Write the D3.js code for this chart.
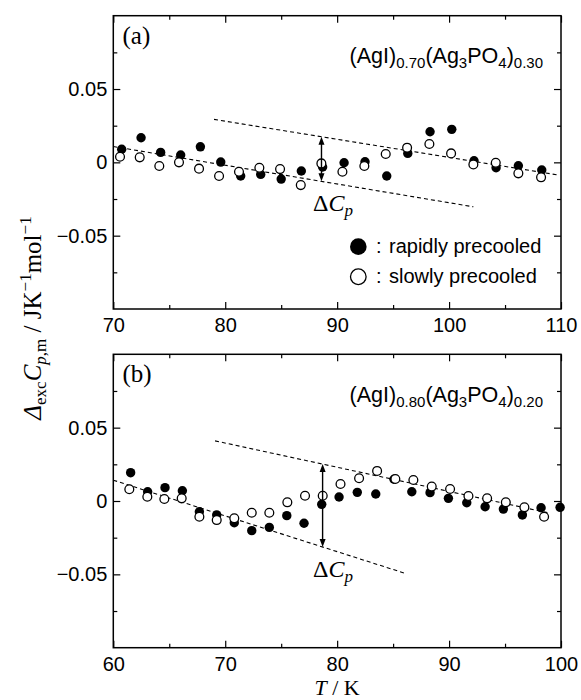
<!DOCTYPE html>
<html><head><meta charset="utf-8">
<script src="https://cdn.jsdelivr.net/npm/d3@7"></script>
<style>body{margin:0;background:#fff}</style>
</head><body>
<svg id="c" width="581" height="700"></svg>
<script>
// ---------- data ----------
const xTicksA = [70, 80, 90, 100, 110];
const xTicksB = [60, 70, 80, 90, 100];
const yTicks = [-0.05, 0, 0.05];
const yMinorTicks = [-0.075, -0.025, 0.025, 0.075];

// panel (a): (AgI)0.70(Ag3PO4)0.30
const aRapidT = [70.75, 72.48, 74.23, 76.02, 77.78, 79.6, 81.38, 83.17, 85.0, 86.8, 88.7, 90.62, 92.49, 94.43, 96.31, 98.3, 100.24, 102.23, 104.2, 106.19, 108.28];
const aRapidV = [0.0089, 0.0168, 0.0068, 0.005, 0.0106, 0.0002, -0.0093, -0.0082, -0.0114, -0.0059, -0.0032, -0.0003, 0.0004, -0.0093, 0.0061, 0.0209, 0.0225, 0.0011, -0.0037, -0.0023, -0.0052];
const aSlowT = [70.6, 72.36, 74.11, 75.87, 77.66, 79.45, 81.23, 83.05, 84.9, 86.75, 88.59, 90.47, 92.43, 94.34, 96.25, 98.24, 100.18, 102.17, 104.17, 106.19, 108.22];
const aSlowV = [0.0038, 0.0034, -0.0025, 0.0, -0.0043, -0.0093, -0.0064, -0.0037, -0.0046, -0.0155, -0.0007, -0.0064, -0.0025, 0.0057, 0.01, 0.0125, 0.0061, -0.0014, -0.0003, -0.0075, -0.0102];
const aLowerLineT = [70, 102.17], aLowerLineV = [0.0108, -0.0303];
const aUpperLineT = [79.0, 109.8], aUpperLineV = [0.0293, -0.0087];
const aArrowT = 88.6;

// panel (b): (AgI)0.80(Ag3PO4)0.20
const bRapidT = [61.55, 63.07, 64.62, 66.17, 67.69, 69.24, 70.81, 72.37, 73.94, 75.5, 77.04, 78.62, 80.17, 81.8, 83.45, 85.08, 86.67, 88.3, 89.94, 91.58, 93.22, 94.85, 96.55, 98.22, 99.92];
const bRapidV = [0.0193, 0.0063, 0.0091, 0.007, -0.0073, -0.0095, -0.0148, -0.0202, -0.018, -0.01, -0.0152, -0.0023, 0.0027, 0.0059, 0.0048, 0.0148, 0.0063, 0.0057, 0.0018, -0.0012, -0.0039, -0.0055, -0.0095, -0.0046, -0.0043];
const bSlowT = [61.43, 63.04, 64.56, 66.11, 67.69, 69.24, 70.81, 72.37, 73.94, 75.55, 77.13, 78.71, 80.3, 81.96, 83.57, 85.2, 86.81, 88.45, 90.09, 91.73, 93.4, 95.07, 96.73, 98.49];
const bSlowV = [0.008, 0.0029, 0.0014, 0.0018, -0.0107, -0.013, -0.0118, -0.008, -0.008, -0.0009, 0.0036, 0.0036, 0.0116, 0.0155, 0.0205, 0.015, 0.0143, 0.0098, 0.0082, 0.0034, 0.0018, -0.0009, -0.0043, -0.0107];
const bLowerLineT = [60, 86.07], bLowerLineV = [0.0142, -0.0493];
const bUpperLineT = [69.09, 99.0], bUpperLineV = [0.041, -0.0083];
const bArrowT = 78.7;

const legendLabels = ["rapidly precooled", "slowly precooled"];

// ---------- drawing ----------
const SANS = "'Liberation Sans', Arial, Helvetica, sans-serif";
const SERIF = "'Liberation Serif', 'Times New Roman', serif";
const svg = d3.select("#c");
const L = 113.3, R = 561;

const panels = [
  {top: 15.7, bottom: 309, xdom: [70, 110], xt: xTicksA, rT: aRapidT, rV: aRapidV, sT: aSlowT, sV: aSlowV,
   lo: [aLowerLineT, aLowerLineV], up: [aUpperLineT, aUpperLineV], arrowT: aArrowT,
   tag: "(a)", f1: "0.70", f2: "0.30", legend: true},
  {top: 354.3, bottom: 647.7, xdom: [60, 100], xt: xTicksB, rT: bRapidT, rV: bRapidV, sT: bSlowT, sV: bSlowV,
   lo: [bLowerLineT, bLowerLineV], up: [bUpperLineT, bUpperLineV], arrowT: bArrowT,
   tag: "(b)", f1: "0.80", f2: "0.20", legend: false}
];

panels.forEach(p => {
  const x = d3.scaleLinear().domain(p.xdom).range([L, R]);
  const y = d3.scaleLinear().domain([-0.1, 0.1]).range([p.bottom, p.top]);
  const g = svg.append("g");
  const xMinor = d3.range(p.xdom[0] + 5, p.xdom[1], 10);

  const fmtY = d => d === 0 ? "0" : d3.format(".2f")(d);
  const styleAxis = sel => {
    sel.select(".domain").remove();
    sel.selectAll("line").attr("stroke", "#000").attr("stroke-width", 1.2);
    sel.selectAll("text").attr("font-family", SANS).attr("font-size", 20).attr("fill", "#000");
  };
  g.append("g").attr("transform", `translate(0,${p.bottom})`)
    .call(d3.axisBottom(x).tickValues(p.xt).tickSize(-7).tickPadding(9).tickFormat(d3.format("d"))).call(styleAxis);
  g.append("g").attr("transform", `translate(0,${p.bottom})`)
    .call(d3.axisBottom(x).tickValues(xMinor).tickSize(-4).tickFormat("")).call(styleAxis);
  g.append("g").attr("transform", `translate(0,${p.top})`)
    .call(d3.axisTop(x).tickValues(p.xt).tickSize(-7).tickFormat("")).call(styleAxis);
  g.append("g").attr("transform", `translate(0,${p.top})`)
    .call(d3.axisTop(x).tickValues(xMinor).tickSize(-4).tickFormat("")).call(styleAxis);
  g.append("g").attr("transform", `translate(${L},0)`)
    .call(d3.axisLeft(y).tickValues(yTicks).tickSize(-7).tickPadding(6).tickFormat(fmtY)).call(styleAxis);
  g.append("g").attr("transform", `translate(${L},0)`)
    .call(d3.axisLeft(y).tickValues(yMinorTicks).tickSize(-4).tickFormat("")).call(styleAxis);
  g.append("g").attr("transform", `translate(${R},0)`)
    .call(d3.axisRight(y).tickValues(yTicks).tickSize(-7).tickFormat("")).call(styleAxis);
  g.append("g").attr("transform", `translate(${R},0)`)
    .call(d3.axisRight(y).tickValues(yMinorTicks).tickSize(-4).tickFormat("")).call(styleAxis);

  g.append("rect").attr("x", L).attr("y", p.top).attr("width", R - L).attr("height", p.bottom - p.top)
    .attr("fill", "none").attr("stroke", "#000").attr("stroke-width", 1.5);

  const line = d3.line().x(d => x(d[0])).y(d => y(d[1]));
  [p.lo, p.up].forEach(ln => {
    g.append("path").attr("d", line(d3.zip(ln[0], ln[1])))
      .attr("fill", "none").attr("stroke", "#000").attr("stroke-width", 1.1).attr("stroke-dasharray", "4,3");
  });

  const slow = d3.zip(p.sT, p.sV), rapid = d3.zip(p.rT, p.rV);
  g.append("g").selectAll("circle").data(rapid).join("circle")
    .attr("cx", d => x(d[0])).attr("cy", d => y(d[1])).attr("r", 4.7).attr("fill", "#000");
  g.append("g").selectAll("circle").data(slow).join("circle")
    .attr("cx", d => x(d[0])).attr("cy", d => y(d[1])).attr("r", 4.4)
    .attr("fill", "#fff").attr("stroke", "#000").attr("stroke-width", 1.3);

  const interp = (ln, t) => ln[1][0] + (t - ln[0][0]) * (ln[1][1] - ln[1][0]) / (ln[0][1] - ln[0][0]);
  const ax = x(p.arrowT), ay1 = y(interp(p.up, p.arrowT)), ay2 = y(interp(p.lo, p.arrowT));
  g.append("line").attr("x1", ax).attr("x2", ax).attr("y1", ay1 + 5).attr("y2", ay2 - 5)
    .attr("stroke", "#000").attr("stroke-width", 1.4);
  g.append("path").attr("d", `M${ax},${ay1} L${ax - 3},${ay1 + 8} L${ax + 3},${ay1 + 8} Z`).attr("fill", "#000");
  g.append("path").attr("d", `M${ax},${ay2} L${ax - 3},${ay2 - 8} L${ax + 3},${ay2 - 8} Z`).attr("fill", "#000");

  const dc = g.append("text").attr("x", 313).attr("y", y(interp(p.lo, p.arrowT)) + 30)
    .attr("font-family", SERIF).attr("font-size", 24).attr("fill", "#000");
  dc.append("tspan").text("Δ");
  dc.append("tspan").attr("font-style", "italic").text("C");
  dc.append("tspan").attr("font-style", "italic").attr("font-size", 17).attr("dy", 5).text("p");

  g.append("text").attr("x", 122.5).attr("y", p.top + 28).attr("font-family", SERIF)
    .attr("font-size", 25).attr("fill", "#000").text(p.tag);

  const f = g.append("text").attr("x", 543).attr("y", p.top + 47.5).attr("text-anchor", "end")
    .attr("font-family", SANS).attr("font-size", 21.5).attr("fill", "#000");
  const sub = (t) => { f.append("tspan").attr("font-size", 15).attr("dy", 5).text(t); };
  const main = (t, back) => { f.append("tspan").attr("dy", back ? -5 : 0).text(t); };
  main("(AgI)"); sub(p.f1); main("(Ag", true); sub("3"); main("PO", true); sub("4"); main(")", true); sub(p.f2);

  if (p.legend) {
    const lx = 358.3, ly = [y(-0.0575), y(-0.078)];
    g.append("circle").attr("cx", lx).attr("cy", ly[0]).attr("r", 8.3).attr("fill", "#000");
    g.append("circle").attr("cx", lx).attr("cy", ly[1]).attr("r", 7.8).attr("fill", "#fff")
      .attr("stroke", "#000").attr("stroke-width", 1.3);
    legendLabels.forEach((t, i) => {
      g.append("text").attr("x", 376).attr("y", ly[i] + 6.5).attr("font-family", SANS).attr("font-size", 20).text(":");
      g.append("text").attr("x", 389).attr("y", ly[i] + 6.5).attr("font-family", SANS).attr("font-size", 20).text(t);
    });
  }
});

// y-axis title
const yt = svg.append("text").attr("transform", "translate(41,318) rotate(-90)").attr("text-anchor", "middle")
  .attr("font-family", SERIF).attr("font-size", 25).attr("fill", "#000");
yt.append("tspan").attr("font-style", "italic").text("Δ");
yt.append("tspan").attr("font-size", 17).attr("dy", 5).text("exc");
yt.append("tspan").attr("font-style", "italic").attr("dy", -5).text("C");
yt.append("tspan").attr("font-style", "italic").attr("font-size", 17).attr("dy", 5).text("p");
yt.append("tspan").attr("font-size", 17).text(",m");
yt.append("tspan").attr("dy", -5).text(" / JK");
yt.append("tspan").attr("font-size", 17).attr("dy", -10).text("−1");
yt.append("tspan").attr("dy", 10).text("mol");
yt.append("tspan").attr("font-size", 17).attr("dy", -10).text("−1");

// x-axis title
const xt = svg.append("text").attr("x", 337).attr("y", 695).attr("text-anchor", "middle")
  .attr("font-family", SERIF).attr("font-size", 22).attr("fill", "#000");
xt.append("tspan").attr("font-style", "italic").text("T");
xt.append("tspan").text(" / K");
</script>
</body></html>
